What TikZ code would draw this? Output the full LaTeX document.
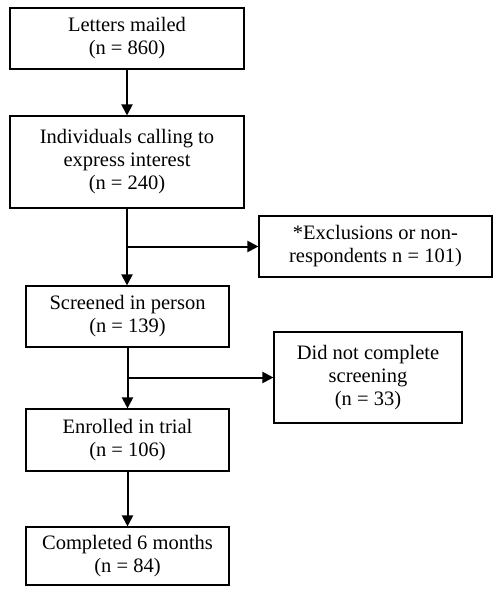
\documentclass[tikz,border=0pt]{standalone}
\usepackage{fontspec}
\setmainfont{Liberation Serif}
\usepackage{tikz}
\usetikzlibrary{arrows.meta, positioning, calc}

\tikzset{
    stage/.style={draw, line width=1.1bp, align=center, inner sep=0pt,
        font=\fontsize{20.5bp}{23bp}\selectfont},
    flow/.style={line width=2bp, -{Triangle[length=11bp, width=11bp]}}
}

\begin{document}
\begin{tikzpicture}[x=1bp, y=-1bp]
        \useasboundingbox (0,0) rectangle (500,592);

        % main column
        \node[stage, minimum width=234bp, minimum height=61bp] (mailed) at (127, 38.5) {Letters mailed\\(n = 860)};
        \node[stage, minimum width=234bp, minimum height=92bp] (calling) at (127, 162) {Individuals calling to\\express interest\\(n = 240)};
        \node[stage, minimum width=203bp, minimum height=61bp] (screened) at (127.5, 316.5) {Screened in person\\(n = 139)};
        \node[stage, minimum width=203bp, minimum height=62bp] (enrolled) at (127.5, 440) {Enrolled in trial\\(n = 106)};
        \node[stage, minimum width=203bp, minimum height=58bp] (completed) at (127.5, 556) {Completed 6 months\\(n = 84)};

        % side boxes
        \node[stage, minimum width=233bp, minimum height=61bp] (excluded) at (375.5, 246.5) {*Exclusions or non-\\respondents n = 101)};
        \node[stage, minimum width=188bp, minimum height=91bp] (dropped) at (368, 377.5) {Did not complete\\screening\\(n = 33)};

        \draw[flow] (mailed) -- (calling);
        \draw[flow] (calling.south) -- (calling.south |- screened.north);
        \draw[flow] (screened.south) -- (screened.south |- enrolled.north);
        \draw[flow] (enrolled.south) -- (enrolled.south |- completed.north);

        \coordinate (split1) at (calling.south |- excluded.west);
        \coordinate (split2) at (screened.south |- dropped.west);
        \draw[flow] (split1) -- (excluded.west);
        \draw[flow] (split2) -- (dropped.west);
    \end{tikzpicture}
\end{document}
